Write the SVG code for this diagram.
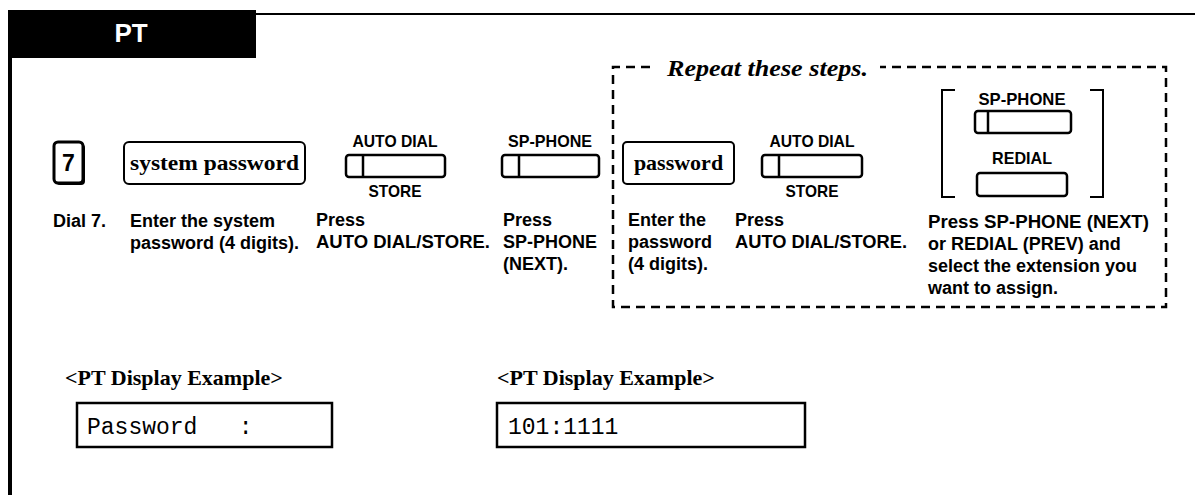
<svg xmlns="http://www.w3.org/2000/svg" width="1195" height="495" viewBox="0 0 1195 495">
<style>
.frame{fill:none;stroke:#000}
.key{fill:#fff;stroke:#000;stroke-width:2.5}
.box{fill:#fff;stroke:#000;stroke-width:2}
.lbl{font-family:"Liberation Sans",Arial,sans-serif;font-weight:bold;font-size:17px;fill:#000;text-anchor:middle}
.desc{font-family:"Liberation Sans",Arial,sans-serif;font-weight:bold;font-size:18px;fill:#000}
.serifb{font-family:"Liberation Serif","Times New Roman",serif;font-weight:bold;fill:#000}
.mono{font-family:"Liberation Mono","Courier New",monospace;font-size:23px;fill:#000}
.dash{fill:none;stroke:#000;stroke-width:2.5;stroke-dasharray:9 6}
</style>
<rect width="1195" height="495" fill="#fff"/>
<g id="header">
<rect x="8" y="10" width="248" height="48" fill="#000"/>
<text x="131" y="42" font-family="Liberation Sans,Arial,sans-serif" font-weight="bold" font-size="26" fill="#fff" text-anchor="middle">PT</text>
<line x1="256" y1="14" x2="1195" y2="14" class="frame" stroke-width="2"/>
<line x1="10" y1="10" x2="10" y2="495" class="frame" stroke-width="4"/>
</g>
<g id="repeat">
<path class="dash" d="M650,67 H613 V307 H1166 V67 H880"/>
<text x="667" y="76" font-family="Liberation Serif,'Times New Roman',serif" font-style="italic" font-weight="bold" font-size="23" textLength="201" lengthAdjust="spacingAndGlyphs">Repeat these steps.</text>
</g>
<g id="step1">
<rect x="56" y="144" width="29" height="41" rx="4" fill="#000"/>
<rect x="54" y="142" width="29" height="41" rx="4" fill="#fff" stroke="#000" stroke-width="3"/>
<text x="68.5" y="171" font-family="Liberation Sans,Arial,sans-serif" font-weight="bold" font-size="23" text-anchor="middle">7</text>
<text class="desc" x="53" y="227">Dial 7.</text>
</g>
<g id="step2">
<rect class="box" x="124" y="142" width="181" height="42" rx="5"/>
<text class="serifb" x="214.5" y="170" font-size="22" text-anchor="middle" textLength="169" lengthAdjust="spacingAndGlyphs">system password</text>
<text class="desc" x="130" y="227">Enter the system</text>
<text class="desc" x="130" y="249">password (4 digits).</text>
</g>
<g id="step3">
<text class="lbl" x="395" y="147" textLength="85" lengthAdjust="spacingAndGlyphs">AUTO DIAL</text>
<rect class="key" x="346" y="155" width="99" height="22" rx="3"/>
<line x1="363" y1="155" x2="363" y2="177" stroke="#000" stroke-width="2.5"/>
<text class="lbl" x="395" y="197" textLength="53" lengthAdjust="spacingAndGlyphs">STORE</text>
<text class="desc" x="316" y="226">Press</text>
<text class="desc" x="316" y="248" textLength="174" lengthAdjust="spacingAndGlyphs">AUTO DIAL/STORE.</text>
</g>
<g id="step4">
<text class="lbl" x="550" y="147" textLength="84" lengthAdjust="spacingAndGlyphs">SP-PHONE</text>
<rect class="key" x="502" y="155" width="97" height="22" rx="3"/>
<line x1="519" y1="155" x2="519" y2="177" stroke="#000" stroke-width="2.5"/>
<text class="desc" x="503" y="226">Press</text>
<text class="desc" x="503" y="248">SP-PHONE</text>
<text class="desc" x="503" y="270">(NEXT).</text>
</g>
<g id="step5">
<rect class="box" x="623" y="142" width="111" height="42" rx="4"/>
<text class="serifb" x="678.5" y="170" font-size="22" text-anchor="middle">password</text>
<text class="desc" x="628" y="226">Enter the</text>
<text class="desc" x="628" y="248">password</text>
<text class="desc" x="628" y="270">(4 digits).</text>
</g>
<g id="step6">
<text class="lbl" x="812" y="147" textLength="85" lengthAdjust="spacingAndGlyphs">AUTO DIAL</text>
<rect class="key" x="762" y="155" width="100" height="22" rx="3"/>
<line x1="779" y1="155" x2="779" y2="177" stroke="#000" stroke-width="2.5"/>
<text class="lbl" x="812" y="197" textLength="53" lengthAdjust="spacingAndGlyphs">STORE</text>
<text class="desc" x="735" y="226">Press</text>
<text class="desc" x="735" y="248" textLength="172" lengthAdjust="spacingAndGlyphs">AUTO DIAL/STORE.</text>
</g>
<g id="step7">
<path d="M955,90 H942 V197 H955 M1090,90 H1103 V197 H1090" fill="none" stroke="#000" stroke-width="2"/>
<text class="lbl" x="1022" y="105" textLength="87" lengthAdjust="spacingAndGlyphs">SP-PHONE</text>
<text class="lbl" x="1022" y="164" textLength="60" lengthAdjust="spacingAndGlyphs">REDIAL</text>
<rect class="key" x="975" y="111" width="96" height="22" rx="3"/>
<line x1="988" y1="111" x2="988" y2="133" stroke="#000" stroke-width="2.5"/>
<rect class="key" x="977" y="173" width="90" height="23" rx="3"/>
<text class="desc" x="928" y="228" textLength="221" lengthAdjust="spacingAndGlyphs">Press SP-PHONE (NEXT)</text>
<text class="desc" x="928" y="250">or REDIAL (PREV) and</text>
<text class="desc" x="928" y="272">select the extension you</text>
<text class="desc" x="928" y="294">want to assign.</text>
</g>
<g id="display1">
<text class="serifb" x="65" y="385" font-size="22">&lt;PT Display Example&gt;</text>
<rect x="77" y="403" width="255" height="44" fill="#fff" stroke="#000" stroke-width="2.5"/>
<text class="mono" x="87" y="434" xml:space="preserve">Password   :</text>
</g>
<g id="display2">
<text class="serifb" x="497" y="385" font-size="22">&lt;PT Display Example&gt;</text>
<rect x="497" y="403" width="308" height="44" fill="#fff" stroke="#000" stroke-width="2.5"/>
<text class="mono" x="508" y="434">101:1111</text>
</g>
</svg>
